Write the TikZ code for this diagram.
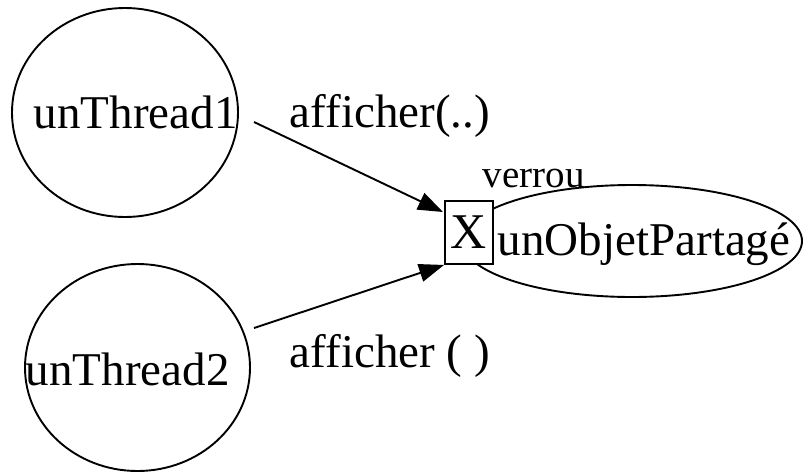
\documentclass[tikz,border=0pt]{standalone}
\usepackage{fontspec}
\setmainfont{Liberation Serif}
\usetikzlibrary{shapes.geometric,arrows.meta}
\begin{document}
\begin{tikzpicture}[x=1pt,y=-1pt,line width=1.9pt,
  big/.style={font=\fontsize{47}{50}\selectfont,inner sep=0pt,anchor=base west},
  small/.style={font=\fontsize{39}{42}\selectfont,inner sep=0pt,anchor=base west},
  oval/.style={draw,ellipse,inner sep=0pt},
  msg/.style={-{Triangle[length=25pt,width=18pt]}}]
\useasboundingbox (0,0) rectangle (803,472);

% the two threads
\node[oval,minimum width=226pt,minimum height=209pt] (t1) at (125,112.5) {};
\node[oval,minimum width=225pt,minimum height=207pt] (t2) at (137.5,367.5) {};
\node[big] (n1) at (33,128) {unThread1};
\node[big] (n2) at (25,385) {unThread2};

% the shared object and its lock
\node[oval,minimum width=340pt,minimum height=112pt] (obj) at (632,241) {};
\node[big] (nobj) at (497,255) {unObjetPartagé};
\node[draw,fill=white,minimum width=48pt,minimum height=63pt,inner sep=0pt,
      font=\fontsize{50}{52}\selectfont] (lock) at (469,232.5) {X};
\node[small] (nlock) at (482,187) {verrou};

% method calls
\coordinate (s1) at (254,122);
\coordinate (e1) at (443,212);
\coordinate (s2) at (254,328);
\draw[msg] (s1) -- (e1);
\draw[msg] (s2) -- (lock.south west);
\node[big] (m1) at (289,127) {afficher(..)};
\node[big] (m2) at (289,367) {afficher ( )};
\end{tikzpicture}
\end{document}
